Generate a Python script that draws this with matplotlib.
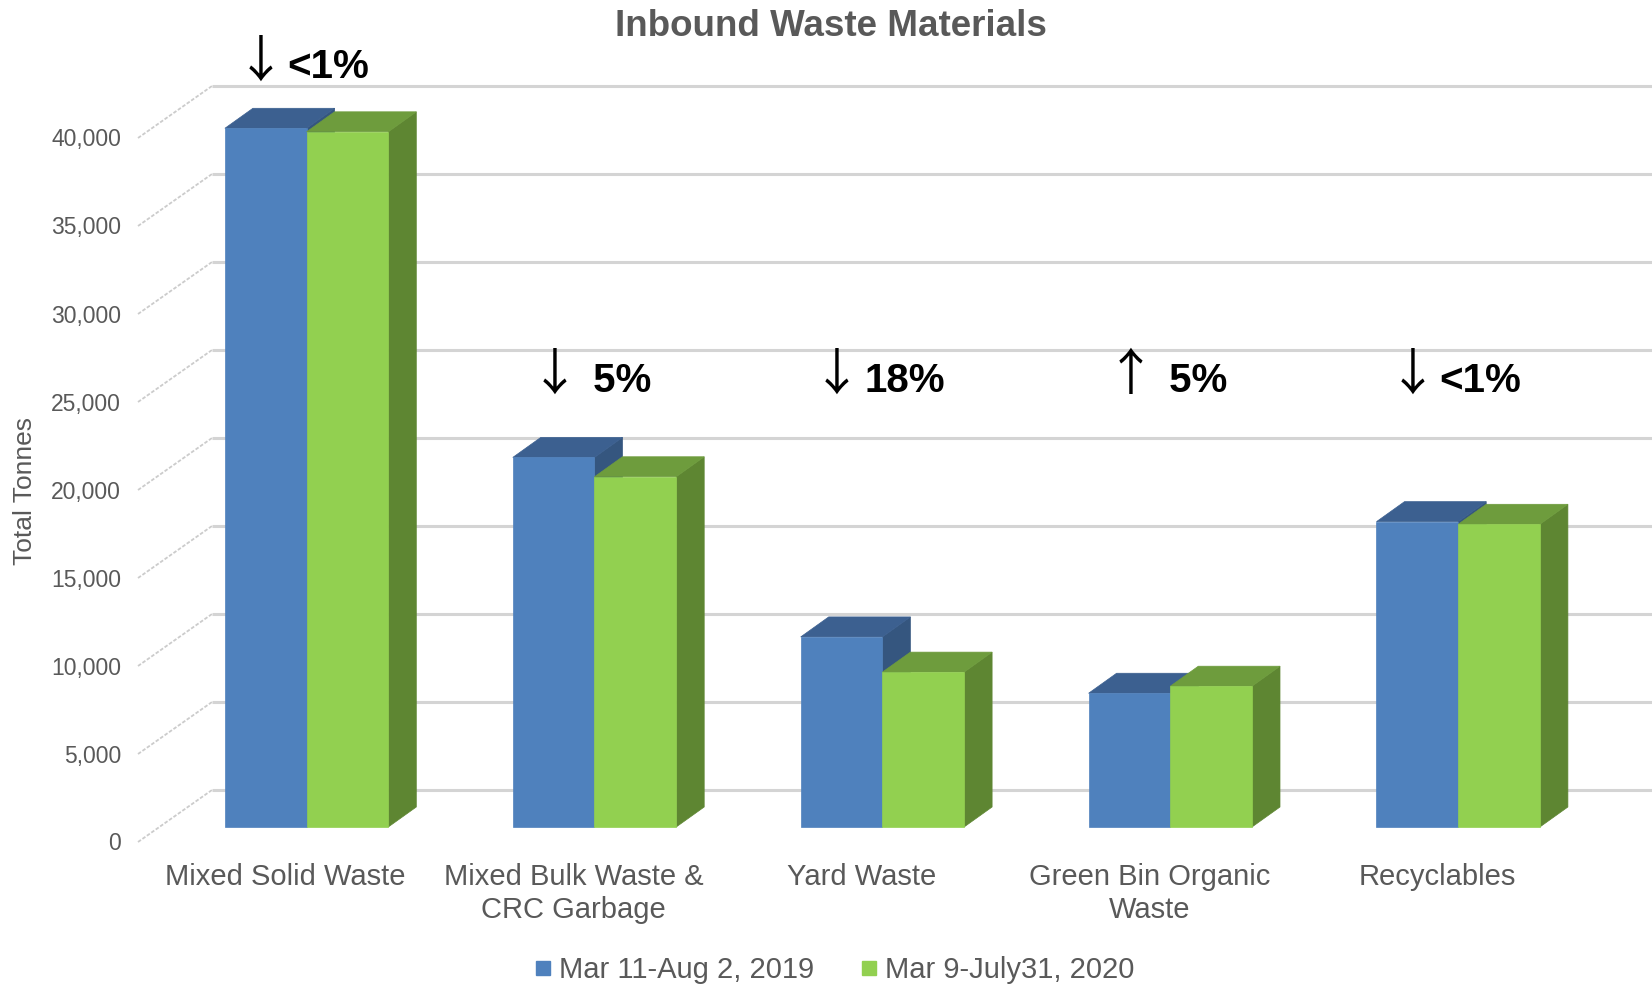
import matplotlib
matplotlib.use('Agg')
import matplotlib.pyplot as plt
from matplotlib.patches import Polygon
from matplotlib.lines import Line2D
from matplotlib import font_manager as fm

# ---------------- data ----------------
categories = ['Mixed Solid Waste', 'Mixed Bulk Waste &\nCRC Garbage', 'Yard Waste',
              'Green Bin Organic\nWaste', 'Recyclables']
series_labels = ['Mar 11-Aug 2, 2019', 'Mar 9-July31, 2020']
values_2019 = [39700, 21000, 10800, 7600, 17350]
values_2020 = [39500, 19900, 8800, 8000, 17200]
change_arrows = ['↓', '↓', '↓', '↑', '↓']
change_labels = ['<1%', ' 5%', '18%', ' 5%', '<1%']
y_ticks = [0, 5000, 10000, 15000, 20000, 25000, 30000, 35000, 40000]

# ---------------- style ----------------
TEXT_GREY = '#595959'
BLUE = {'front': '#4F81BD', 'top': '#3C6090', 'side': '#35567F'}
GREEN = {'front': '#92D050', 'top': '#6E9C3D', 'side': '#5E8632'}

names = {f.name for f in fm.fontManager.ttflist}
if 'Liberation Sans Narrow' in names:
    NARROW, ANN_SIZE = 'Liberation Sans Narrow', 33
else:
    NARROW, ANN_SIZE = 'Liberation Sans', 29
plt.rcParams['font.family'] = ['Liberation Sans', 'DejaVu Sans']

W, H, DPI = 1652, 991, 100
fig = plt.figure(figsize=(W / DPI, H / DPI), dpi=DPI)
ax = fig.add_axes([0, 0, 1, 1])
ax.axis('off')

# layout (pixel based, converted to data units)
PX_X0 = 306.6      # pixel x of category 0 centre (bar front plane)
PX_CAT = 287.9     # pixels per category
PX_Y0 = 827.0      # pixel y of value 0 on bar front plane
PX_PER_UNIT = 0.0176

def dx(px):
    return px / PX_CAT

def dy(px):
    return px / PX_PER_UNIT

ax.set_xlim(-PX_X0 / PX_CAT, (W - PX_X0) / PX_CAT)
ax.set_ylim((PX_Y0 - H) / PX_PER_UNIT, PX_Y0 / PX_PER_UNIT)

LABEL_OFF = (dx(-21), dy(-15))          # front (label) plane relative to bar front
WALL_OFF = (dx(53), dy(37))             # back wall relative to bar front
BAR_DEPTH = (dx(28), dy(20))
BAR_W = dx(81.7)
label_left_x = dx(138 - PX_X0)
wall_left_x = label_left_x + dx(74)
tick_text_x = dx(121 - PX_X0)
xmax = ax.get_xlim()[1]

# gridlines (back wall + left wall)
for t in y_ticks:
    ax.plot([wall_left_x, xmax], [t + WALL_OFF[1]] * 2, color='#d4d4d4', lw=2.2,
            solid_capstyle='butt', zorder=1)
    ax.plot([label_left_x, wall_left_x], [t + LABEL_OFF[1], t + WALL_OFF[1]],
            color='#cccccc', lw=1.3, linestyle=(0, (2, 1)), zorder=1)
    ax.text(tick_text_x, t + LABEL_OFF[1] - dy(2), f'{t:,}', ha='right', va='center',
            fontsize=16.5, color=TEXT_GREY)

# 3D bars
def bar3d(x0, h, col, z):
    x1 = x0 + BAR_W
    ddx, ddy = BAR_DEPTH
    side = [(x1, 0), (x1 + ddx, ddy), (x1 + ddx, h + ddy), (x1, h)]
    top = [(x0, h), (x1, h), (x1 + ddx, h + ddy), (x0 + ddx, h + ddy)]
    front = [(x0, 0), (x1, 0), (x1, h), (x0, h)]
    ax.add_patch(Polygon(side, closed=True, fc=col['side'], ec=col['side'], lw=0.5, zorder=z))
    ax.add_patch(Polygon(top, closed=True, fc=col['top'], ec=col['top'], lw=0.5, zorder=z))
    ax.add_patch(Polygon(front, closed=True, fc=col['front'], ec=col['front'], lw=0.5, zorder=z))

for i, (a, b) in enumerate(zip(values_2019, values_2020)):
    bar3d(i - BAR_W, a, BLUE, 3 + 2 * i)
    bar3d(i, b, GREEN, 4 + 2 * i)

# category labels
for i, c in enumerate(categories):
    ax.text(i + LABEL_OFF[0], dy(-36), c, ha='center', va='top', fontsize=21,
            color=TEXT_GREY, linespacing=1.25)

# change annotations (arrow + percentage, centred over each category)
renderer = fig.canvas.get_renderer()
ANNOT_BASE = dy(827 - 392)
for i, (arr, lab) in enumerate(zip(change_arrows, change_labels)):
    top = max(values_2019[i], values_2020[i])
    base = max(ANNOT_BASE, top + dy(50))
    arr_t = ax.text(0, base + dy(16), arr, ha='right', va='center', fontsize=36,
                    color='black', family=['Noto Sans CJK JP', 'DejaVu Sans'], zorder=20)
    lab_t = ax.text(0, base, lab, ha='left', va='baseline', fontsize=ANN_SIZE,
                    fontweight='bold', color='black', family=[NARROW, 'DejaVu Sans'],
                    zorder=20)
    wa = arr_t.get_window_extent(renderer).width
    wl = lab_t.get_window_extent(renderer).width
    gap = 2.0
    left = i - dx((wa + wl + gap) / 2 + 4)
    arr_t.set_x(left + dx(wa))
    lab_t.set_x(left + dx(wa + gap))

# y-axis title
fig.text(25 / W, 1 - 491 / H, 'Total Tonnes', rotation=90, ha='center', va='center',
         fontsize=19, color=TEXT_GREY)

# title
fig.text(0.503, 1 - 26 / H, 'Inbound Waste Materials', ha='center', va='center',
         fontsize=26.5, fontweight='bold', color=TEXT_GREY)

# legend
handles = [Line2D([], [], marker='s', linestyle='none', markersize=10,
                  color=c['front']) for c in (BLUE, GREEN)]
fig.legend(handles, series_labels, loc='center', bbox_to_anchor=(0.505, 0.021),
           ncol=2, frameon=False, fontsize=21, handlelength=0.6, handletextpad=0.25,
           columnspacing=1.6, borderpad=0, labelcolor=TEXT_GREY)

fig.savefig('out.png', dpi=DPI)
